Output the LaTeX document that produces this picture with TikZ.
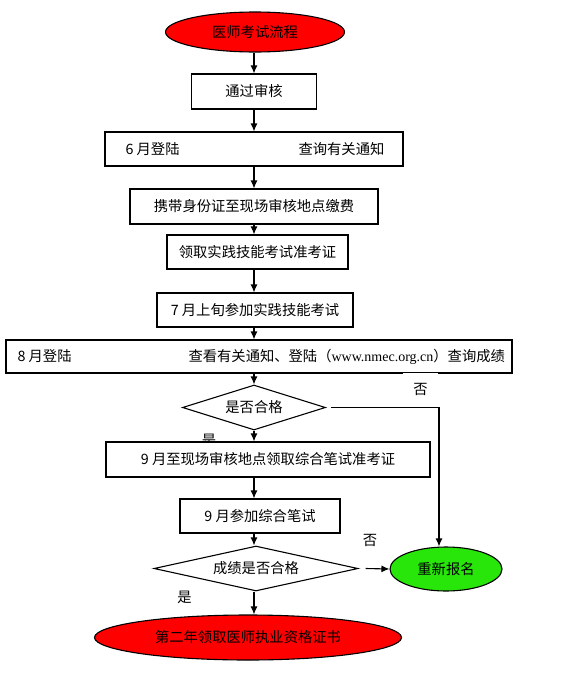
\documentclass[tikz,border=0pt]{standalone}
\usepackage{fontspec}
\setmainfont{Noto Sans CJK SC}
\newfontfamily\urlfont{Liberation Serif}
\usetikzlibrary{shapes.geometric}
\usetikzlibrary{arrows.meta}
\definecolor{signgreen}{RGB}{40,230,10}

\begin{document}
\begin{tikzpicture}[x=1pt, y=-1pt, line width=1.1pt,
    >={Latex[length=8pt,width=7pt]},
    every node/.style={font=\fontsize{14.3pt}{16pt}\selectfont, inner sep=0pt},
    stepbox/.style={draw, fill=white, rectangle},
    oval/.style={draw, ellipse},
    check/.style={draw, fill=white, diamond}]
\useasboundingbox (0,0) rectangle (560,675);
\coordinate (axis) at (254,0);
% start
\node[oval, fill=red, minimum width=179pt, minimum height=40pt] (start) at (255,32) {医师考试流程};
% skill exam steps
\node[stepbox, minimum width=125pt, minimum height=35pt] (pass) at (254,91.5) {通过审核};
\node[stepbox, minimum width=298pt, minimum height=34pt] (june) at (254,149) {};
\node[anchor=west] (junel) at (125,149) {6 月登陆};
\node[anchor=west] (juner) at (298,149) {查询有关通知};
\node[stepbox, minimum width=248pt, minimum height=35pt] (fee) at (254,206.5) {携带身份证至现场审核地点缴费};
\node[stepbox, minimum width=181pt, minimum height=34pt] (ticket1) at (257.5,252) {领取实践技能考试准考证};
\node[stepbox, minimum width=196pt, minimum height=34pt] (skill) at (255,310) {7 月上旬参加实践技能考试};
\node[stepbox, minimum width=506pt, minimum height=33pt] (aug) at (259,356.5) {};
\node[anchor=west] (augl) at (17,356.5) {8 月登陆};
\node[anchor=west] (augr) at (188,356.5) {查看有关通知、登陆（{\urlfont\fontsize{14pt}{16pt}\selectfont www.nmec.org.cn}）查询成绩};
\node[check, aspect=3.2, minimum width=143pt, minimum height=45pt] (pass1) at (254,407.5) {是否合格};
% written exam steps
\node (yes1) at (209,440) {是};
\node[stepbox, minimum width=324pt, minimum height=35pt] (ticket2) at (268,459.5) {9 月至现场审核地点领取综合笔试准考证};
\node[stepbox, minimum width=160pt, minimum height=34pt] (written) at (260,516) {9 月参加综合笔试};
\node[check, aspect=4.5, minimum width=204pt, minimum height=45pt] (pass2) at (256,568.5) {成绩是否合格};
\node[oval, fill=signgreen, minimum width=112pt, minimum height=44pt] (again) at (446,569) {重新报名};
\node (yes2) at (184.5,597.5) {是};
\node (no2) at (370,540) {否};
% end
\node[oval, fill=red, minimum width=307pt, minimum height=45pt] (cert) at (248,637.5) {第二年领取医师执业资格证书};
\node[fill=white, minimum width=35pt, minimum height=32pt] (no1) at (420.5,389) {否};
% draw arrows
\foreach \a/\b in {start/pass, pass/june, june/fee, fee/ticket1, ticket1/skill, skill/aug,
    aug/pass1, pass1/ticket2, ticket2/written, written/pass2, pass2/cert}
    \draw[->] (\a.south -| axis) -- (\b.north -| axis);
\draw[->] ([xshift=5pt]pass1.east) -| ([xshift=-7pt]again.north);
\draw[->] ([xshift=7pt]pass2.east) -- (again.west);
\end{tikzpicture}
\end{document}
